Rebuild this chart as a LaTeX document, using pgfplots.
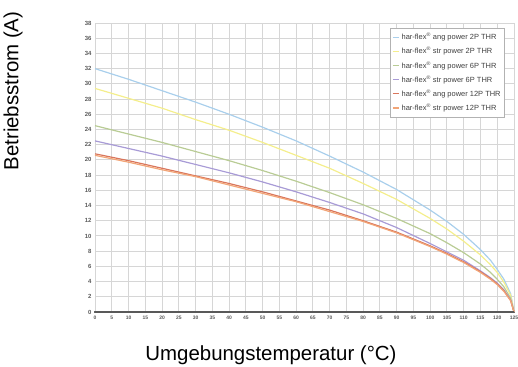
\documentclass[border=0pt]{standalone}
\usepackage{fontspec}
\setmainfont{Liberation Sans}
\usepackage{pgfplots}
\pgfplotsset{compat=1.18}
\definecolor{cblue}{HTML}{A9CFEC}
\definecolor{cyellow}{HTML}{F4EE8C}
\definecolor{cgreen}{HTML}{B9CC95}
\definecolor{cpurple}{HTML}{A89BD6}
\definecolor{cred}{HTML}{D9765C}
\definecolor{corange}{HTML}{F2A577}
\begin{document}
\begin{tikzpicture}
\useasboundingbox (-95bp,-55bp) rectangle (423bp,312bp);
\clip (-95bp,-55bp) rectangle (423bp,312bp);
\begin{axis}[
  at={(0,0)}, anchor=south west,
  scale only axis, width=419bp, height=289bp,
  xmin=0, xmax=125, ymin=0, ymax=38,
  xtick={0,5,...,125}, ytick={0,2,...,38},
  grid=major,
  major grid style={draw=black!16, line width=1pt},
  axis line style={draw=black!16, line width=1pt},
  axis x line*=bottom, axis y line*=left,
  ytick style={draw=none},
  xtick style={draw=black!60, line width=1.2pt},
  xtick align=center, major tick length=2.5pt,
  tick label style={text=black!65},
  xticklabel style={font=\fontsize{5}{6}\selectfont\bfseries, text height=4pt, text depth=0pt, anchor=north, yshift=1pt},
  yticklabel style={font=\fontsize{6}{7}\selectfont\bfseries, xshift=0pt},
  /pgf/number format/assume math mode=true,
  legend style={at={(rel axis cs:0.7041,0.9827)}, anchor=north west,
    font=\fontsize{7.5}{8}\selectfont, text=black!75, draw=black!30, fill=white,
    row sep=2pt, inner xsep=2pt, inner ysep=3pt, cells={anchor=west},
    /tikz/every odd column/.style={inner xsep=1pt}},
  legend image code/.code={\draw[#1, line width=1.4pt] (0cm,0cm) -- (6bp,0cm);},
  every axis plot/.append style={line width=1.2pt, no marks},
  clip=false,
]
\addplot[cblue] coordinates {(0,32.0)(10,30.6)(20,29.1)(30,27.6)(40,26.0)(50,24.3)(60,22.5)(70,20.5)(80,18.4)(90,16.1)(100,13.4)(105,11.9)(110,10.2)(115,8.2)(118,6.8)(120,5.6)(122,4.3)(124,2.4)(125,0)};
\addplot[cyellow] coordinates {(0,29.4)(10,28.1)(20,26.8)(30,25.3)(40,23.9)(50,22.3)(60,20.6)(70,18.9)(80,16.9)(90,14.8)(100,12.3)(105,10.9)(110,9.3)(115,7.5)(118,6.2)(120,5.2)(122,3.9)(124,2.2)(125,0)};
\addplot[cgreen] coordinates {(0,24.5)(10,23.4)(20,22.3)(30,21.1)(40,19.9)(50,18.6)(60,17.2)(70,15.7)(80,14.1)(90,12.3)(100,10.3)(105,9.1)(110,7.8)(115,6.3)(118,5.2)(120,4.3)(122,3.3)(124,1.8)(125,0)};
\addplot[cpurple] coordinates {(0,22.5)(10,21.5)(20,20.5)(30,19.4)(40,18.3)(50,17.1)(60,15.8)(70,14.4)(80,12.9)(90,11.1)(100,9.0)(105,7.9)(110,6.8)(115,5.4)(118,4.5)(120,3.8)(122,2.9)(124,1.6)(125,0)};
\addplot[cred] coordinates {(0,20.8)(10,19.9)(20,18.9)(30,17.9)(40,16.9)(50,15.8)(60,14.6)(70,13.4)(80,12.0)(90,10.5)(100,8.7)(105,7.7)(110,6.6)(115,5.3)(118,4.4)(120,3.7)(122,2.8)(124,1.5)(125,0)};
\addplot[corange] coordinates {(0,20.6)(10,19.7)(20,18.7)(30,17.8)(40,16.7)(50,15.6)(60,14.5)(70,13.2)(80,11.9)(90,10.4)(100,8.6)(105,7.6)(110,6.5)(115,5.2)(118,4.3)(120,3.6)(122,2.7)(124,1.5)(125,0)};
\legend{har-flex\textsuperscript{®} ang power 2P THR, har-flex\textsuperscript{®} str power 2P THR, har-flex\textsuperscript{®} ang power 6P THR, har-flex\textsuperscript{®} str power 6P THR, har-flex\textsuperscript{®} ang power 12P THR, har-flex\textsuperscript{®} str power 12P THR}
\draw[black!65, line width=1.4pt] (axis cs:0,0) -- (axis cs:125,0);
\end{axis}
\node[rotate=90, font=\fontsize{20.5}{24}\selectfont] at (-82bp,221bp) {Betriebsstrom (A)};
\node[font=\fontsize{20.5}{24}\selectfont] at (176bp,-43bp) {Umgebungstemperatur (°C)};
\end{tikzpicture}
\end{document}
